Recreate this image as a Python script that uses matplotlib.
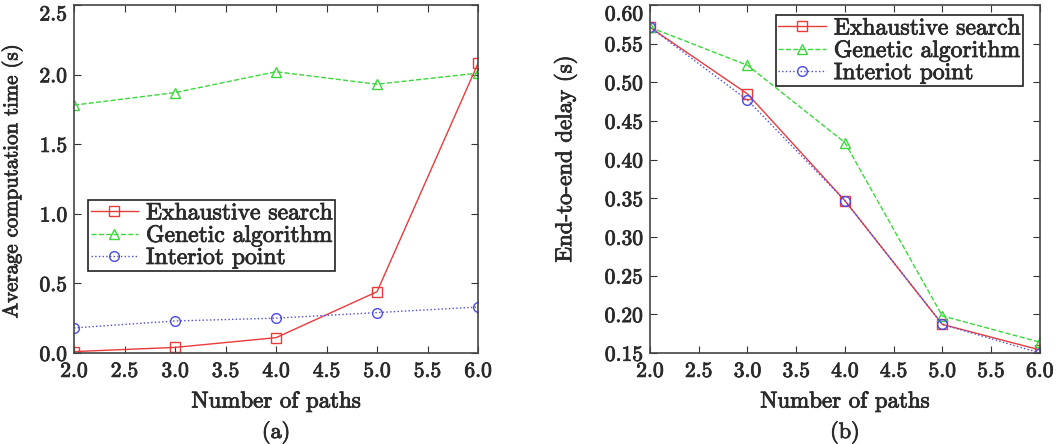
import matplotlib
matplotlib.use('Agg')
import matplotlib.pyplot as plt
import matplotlib.patheffects as pe
from matplotlib.text import Text

paths = [2.0, 3.0, 4.0, 5.0, 6.0]
labels = ['Exhaustive search', 'Genetic algorithm', 'Interiot point']

# (a) average computation time
time_exhaustive = [0.01, 0.04, 0.11, 0.44, 2.08]
time_genetic = [1.78, 1.87, 2.02, 1.93, 2.01]
time_interior = [0.18, 0.23, 0.25, 0.29, 0.33]

# (b) end-to-end delay
delay_exhaustive = [0.571, 0.485, 0.347, 0.187, 0.154]
delay_genetic = [0.571, 0.522, 0.422, 0.198, 0.164]
delay_interior = [0.571, 0.477, 0.347, 0.187, 0.150]

plt.rcParams['font.family'] = 'cmr10'
plt.rcParams['axes.formatter.use_mathtext'] = True
plt.rcParams['mathtext.fontset'] = 'cm'

TXT = '#2a2a2a'
styles = [
    dict(color='#ea3b3b', ls='-', marker='s'),
    dict(color='#3ad83a', ls='--', marker='^'),
    dict(color='#4a4ae6', ls=':', marker='o'),
]

fig = plt.figure(figsize=(10.59, 4.44), dpi=100)
ax1 = fig.add_axes([0.0699, 0.205, 0.3815, 0.784])
ax2 = fig.add_axes([0.6138, 0.205, 0.368, 0.784])


def draw(ax, series):
    for y, st, lab in zip(series, styles, labels):
        ax.plot(paths, y, color=st['color'], ls=st['ls'], lw=1.0,
                marker=st['marker'], ms=7, mfc='none', mec=st['color'],
                mew=1.0, label=lab)
    ax.set_xlim(2.0, 6.0)
    ax.set_xticks([2.0, 2.5, 3.0, 3.5, 4.0, 4.5, 5.0, 5.5, 6.0])
    ax.set_xticklabels(['%.1f' % v for v in ax.get_xticks()])
    ax.tick_params(direction='in', top=True, right=True, length=5,
                   labelsize=15.5, colors='#333333', labelcolor=TXT)
    ax.tick_params(axis='x', pad=6)
    ax.tick_params(axis='y', pad=5)
    for s in ax.spines.values():
        s.set_color('#444444')
        s.set_linewidth(1.2)
    ax.set_xlabel('Number of paths', fontsize=16.5, color=TXT, labelpad=8)


def add_legend(ax, **kw):
    leg = ax.legend(fontsize=17, fancybox=False, edgecolor='#222222',
                    handlelength=2.0, borderpad=0.1, labelspacing=0.0,
                    handletextpad=0.35, borderaxespad=0, framealpha=1, **kw)
    leg.get_frame().set_linewidth(1.2)
    for t in leg.get_texts():
        t.set_color(TXT)


draw(ax1, [time_exhaustive, time_genetic, time_interior])
ax1.set_ylim(0, 2.5)
ax1.set_yticks([0.0, 0.5, 1.0, 1.5, 2.0, 2.5])
ax1.set_yticklabels(['%.1f' % v for v in ax1.get_yticks()])
ax1.get_yticklabels()[-1].set_va('top')
ax1.set_ylabel('Average computation time (s)', fontsize=15, color=TXT)
ax1.yaxis.set_label_coords(-0.128, 0.494)
add_legend(ax1, loc='upper left', bbox_to_anchor=(0.035, 0.44))

draw(ax2, [delay_exhaustive, delay_genetic, delay_interior])
ax2.set_ylim(0.15, 0.60)
ax2.set_yticks([0.15, 0.20, 0.25, 0.30, 0.35, 0.40, 0.45, 0.50, 0.55, 0.60])
ax2.set_yticklabels(['%.2f' % v for v in ax2.get_yticks()])
ax2.get_yticklabels()[-1].set_va('top')
ax2.set_ylabel('End-to-end delay (s)', fontsize=16.5, color=TXT)
ax2.yaxis.set_label_coords(-0.187, 0.557)
add_legend(ax2, loc='upper right', bbox_to_anchor=(0.956, 0.971))

fig.text(0.0699 + 0.3815 / 2, 0.0, '(a)', ha='center', va='bottom',
         fontsize=16, color=TXT)
fig.text(0.6138 + 0.368 / 2, 0.0, '(b)', ha='center', va='bottom',
         fontsize=16, color=TXT)

# slightly heavier text, like the scanned original
for t in fig.findobj(Text):
    t.set_path_effects([pe.withStroke(linewidth=0.6, foreground=TXT)])

fig.savefig('out.png', dpi=100)
